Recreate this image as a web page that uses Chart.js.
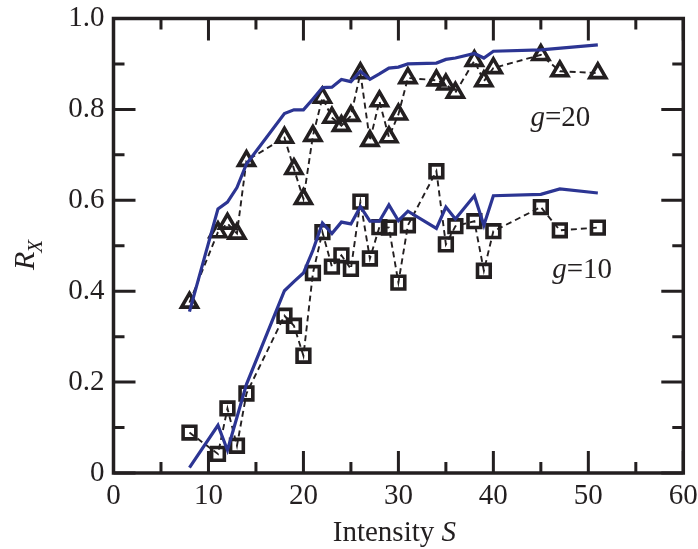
<!DOCTYPE html>
<html>
<head>
<meta charset="utf-8">
<title>R_X vs intensity</title>
<script src="https://cdn.jsdelivr.net/npm/chart.js@4.4.1/dist/chart.umd.min.js"></script>
<style>
  html, body { margin: 0; padding: 0; background: #fff; }
  #wrap { width: 698px; height: 549px; }
</style>
</head>
<body>
<div id="wrap"><canvas id="rxChart" width="698" height="549"></canvas></div>
<script>
// measured points, g = 20 (triangles)
var obs20X = [8, 11, 12, 13, 14, 18, 19, 20, 21, 22, 23, 24, 25, 26, 27, 28, 29, 30, 31, 34, 35, 36, 38, 39, 40, 45, 47, 51];
var obs20Y = [0.375, 0.530, 0.549, 0.527, 0.687, 0.738, 0.669, 0.603, 0.742, 0.826, 0.782, 0.764, 0.786, 0.880, 0.731, 0.818, 0.739, 0.789, 0.869, 0.864, 0.855, 0.837, 0.907, 0.862, 0.891, 0.920, 0.884, 0.880];

// measured points, g = 10 (squares)
var obs10X = [8, 11, 12, 13, 14, 18, 19, 20, 21, 22, 23, 24, 25, 26, 27, 28, 29, 30, 31, 34, 35, 36, 38, 39, 40, 45, 47, 51];
var obs10Y = [0.089, 0.042, 0.142, 0.060, 0.175, 0.346, 0.324, 0.258, 0.440, 0.530, 0.454, 0.479, 0.449, 0.597, 0.472, 0.541, 0.540, 0.419, 0.545, 0.664, 0.503, 0.543, 0.554, 0.445, 0.532, 0.585, 0.534, 0.540];

// model curve, g = 20
var sim20X = [8, 11, 12, 13, 14, 18, 19, 20, 21, 22, 23, 24, 25, 26, 27, 28, 29, 30, 31, 34, 35, 36, 38, 39, 40, 45, 51];
var sim20Y = [0.355, 0.581, 0.596, 0.628, 0.680, 0.791, 0.799, 0.799, 0.823, 0.848, 0.849, 0.866, 0.861, 0.884, 0.866, 0.878, 0.891, 0.893, 0.900, 0.902, 0.910, 0.913, 0.923, 0.913, 0.928, 0.931, 0.942];

// model curve, g = 10
var sim10X = [8, 11, 12, 14, 18, 19, 20, 21, 22, 23, 24, 25, 26, 27, 28, 29, 30, 31, 34, 35, 36, 38, 39, 40, 45, 47, 51];
var sim10Y = [0.012, 0.105, 0.050, 0.195, 0.401, 0.421, 0.440, 0.490, 0.550, 0.527, 0.552, 0.548, 0.586, 0.554, 0.554, 0.590, 0.555, 0.576, 0.538, 0.585, 0.559, 0.610, 0.545, 0.610, 0.613, 0.625, 0.616];

var xTicks = [0, 10, 20, 30, 40, 50, 60];
var xMinor = [5, 15, 25, 35, 45, 55];
var yTicks = [0, 0.2, 0.4, 0.6, 0.8, 1.0];
var yMinor = [0.1, 0.3, 0.5, 0.7, 0.9];

var ink = '#231f20';
var navy = '#2c3593';
var serif = '"Liberation Serif", "Times New Roman", serif';

function pts(xs, ys) {
    return xs.map(function (x, i) { return {x: x, y: ys[i]}; });
}

// frame with inward ticks, curve labels and axis titles
var framePlugin = {
    id: 'frame',
    afterDraw: function (chart) {
        var ctx = chart.ctx;
        var a = chart.chartArea;
        var sx = chart.scales.x, sy = chart.scales.y;
        ctx.save();
        ctx.strokeStyle = ink;
        ctx.lineWidth = 3.5;
        ctx.lineCap = 'butt';
        ctx.strokeRect(a.left, a.top, a.right - a.left, a.bottom - a.top);

        ctx.lineWidth = 3;
        ctx.beginPath();
        function xt(v, len) {
            var px = sx.getPixelForValue(v);
            ctx.moveTo(px, a.bottom); ctx.lineTo(px, a.bottom - len);
            ctx.moveTo(px, a.top); ctx.lineTo(px, a.top + len);
        }
        function yt(v, len) {
            var py = sy.getPixelForValue(v);
            ctx.moveTo(a.left, py); ctx.lineTo(a.left + len, py);
            ctx.moveTo(a.right, py); ctx.lineTo(a.right - len, py);
        }
        xTicks.forEach(function (v) { xt(v, 22); });
        xMinor.forEach(function (v) { xt(v, 11); });
        yTicks.forEach(function (v) { yt(v, 22); });
        yMinor.forEach(function (v) { yt(v, 11); });
        ctx.stroke();

        ctx.fillStyle = ink;
        ctx.textBaseline = 'alphabetic';
        ctx.textAlign = 'left';

        function gLabel(txt, x, y) {
            var px = sx.getPixelForValue(x), py = sy.getPixelForValue(y);
            ctx.font = 'italic 29px ' + serif;
            ctx.fillText('g', px, py);
            var w = ctx.measureText('g').width;
            ctx.font = '29px ' + serif;
            ctx.fillText(txt, px + w, py);
        }
        gLabel('=20', 43.9, 0.763);
        gLabel('=10', 46.2, 0.429);

        // x title: "Intensity S"
        ctx.font = '29px ' + serif;
        var t1 = 'Intensity ';
        var w1 = ctx.measureText(t1).width;
        ctx.font = 'italic 29px ' + serif;
        var w2 = ctx.measureText('S').width;
        var cx = (a.left + a.right) / 2 - 4;
        var x0 = cx - (w1 + w2) / 2;
        ctx.font = '29px ' + serif;
        ctx.fillText(t1, x0, 541);
        ctx.font = 'italic 29px ' + serif;
        ctx.fillText('S', x0 + w1, 541);

        // y title: R with subscript X
        ctx.translate(34, 270);
        ctx.rotate(-Math.PI / 2);
        ctx.font = 'italic 30px ' + serif;
        ctx.fillText('R', 0, 0);
        var wr = ctx.measureText('R').width;
        ctx.font = 'italic 21px ' + serif;
        ctx.fillText('X', wr - 1, 8);
        ctx.restore();
    }
};

var tickFont = {family: serif, size: 29, lineHeight: 1};

function markerSet(label, xs, ys, style, radius) {
    return {
        label: label,
        data: pts(xs, ys),
        borderColor: ink,
        borderWidth: 1.9,
        borderDash: [6, 4],
        pointStyle: style,
        pointRadius: radius,
        pointBorderWidth: 3.6,
        pointBorderColor: ink,
        pointBackgroundColor: 'rgba(0,0,0,0)',
        tension: 0,
        order: 1
    };
}

function modelSet(label, xs, ys) {
    return {
        label: label,
        data: pts(xs, ys),
        borderColor: navy,
        borderWidth: 3.2,
        pointRadius: 0,
        tension: 0,
        order: 0
    };
}

var config = {
    type: 'line',
    data: {
        datasets: [
            modelSet('model g=20', sim20X, sim20Y),
            modelSet('model g=10', sim10X, sim10Y),
            markerSet('g=20', obs20X, obs20Y, 'triangle', 9.2),
            markerSet('g=10', obs10X, obs10Y, 'rect', 9)
        ]
    },
    options: {
        responsive: false,
        devicePixelRatio: 1,
        animation: false,
        layout: {
            padding: {top: 18.5, right: 14.7, left: 0, bottom: 0}
        },
        plugins: {
            legend: {display: false},
            title: {display: false},
            tooltip: {enabled: false}
        },
        scales: {
            x: {
                type: 'linear',
                min: 0,
                max: 60,
                grid: {display: false, drawTicks: false},
                border: {display: false},
                afterBuildTicks: function (s) {
                    s.ticks = xTicks.map(function (v) { return {value: v}; });
                },
                afterFit: function (s) {
                    s.height = 549 - 473;
                    s.paddingLeft = 0;
                    s.paddingRight = 0;
                },
                ticks: {
                    font: tickFont,
                    color: ink,
                    padding: 9,
                    maxRotation: 0,
                    autoSkip: false,
                    callback: function (v) { return String(v); }
                }
            },
            y: {
                type: 'linear',
                min: 0,
                max: 1,
                grid: {display: false, drawTicks: false},
                border: {display: false},
                afterBuildTicks: function (s) {
                    s.ticks = yTicks.map(function (v) { return {value: v}; });
                },
                afterFit: function (s) {
                    s.width = 113.5;
                    s.paddingTop = 0;
                    s.paddingBottom = 0;
                },
                ticks: {
                    font: tickFont,
                    color: ink,
                    padding: 9,
                    autoSkip: false,
                    callback: function (v) { return v === 0 ? '0' : v.toFixed(1); }
                }
            }
        }
    },
    plugins: [framePlugin]
};

var ctx = document.getElementById('rxChart').getContext('2d');
var rxChart = new Chart(ctx, config);
</script>
</body>
</html>
